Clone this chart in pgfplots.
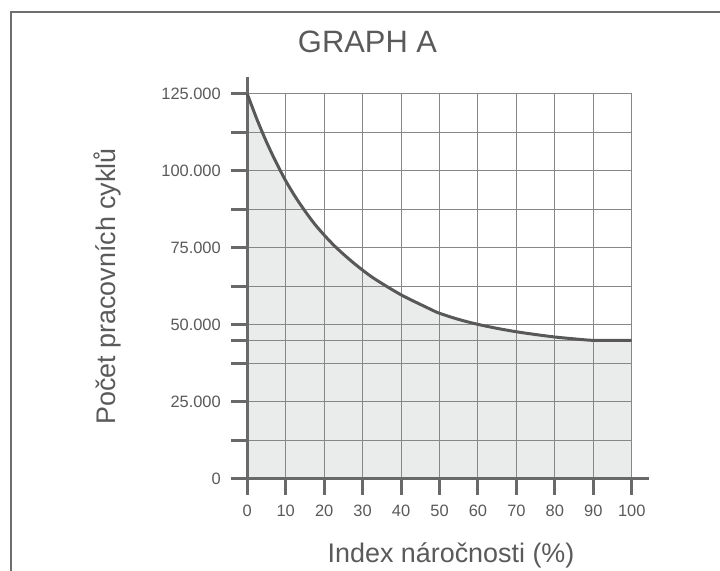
\documentclass[border=0pt]{standalone}
\usepackage{pgfplots}
\pgfplotsset{compat=1.18}
\usepackage{fontspec}
\setmainfont{Liberation Sans}
\definecolor{axisgray}{RGB}{105,105,105}
\definecolor{gridgray}{RGB}{135,135,135}
\definecolor{fillgray}{RGB}{234,235,235}
\definecolor{curvegray}{RGB}{88,88,88}
\definecolor{textgray}{RGB}{90,90,90}
\definecolor{framegray}{RGB}{110,110,110}
\begin{document}
\begin{tikzpicture}[x=1bp,y=1bp]
\draw[framegray, line width=2bp] (11,-5) -- (11,558.5) -- (730,558.5);
\node[text=textgray, anchor=base, font=\fontsize{31}{36}\selectfont] at (367.5,518) {GRAPH A};
\begin{axis}[
  set layers,
  at={(247.3bp,92bp)}, anchor=south west,
  width=384.4bp, height=385bp, scale only axis,
  xmin=0, xmax=100, ymin=0, ymax=125,
  clip=false,
  axis lines=left,
  axis line style={-, line width=3bp, axisgray, shorten >=-17bp},
  xtick={0,10,...,100},
  ytick={0,12.5,25,37.5,45,50,62.5,75,87.5,100,112.5,125},
  yticklabels={0,,25.000,,,50.000,,75.000,,100.000,,125.000},
  tick style={line width=3bp, axisgray},
  major tick length=16bp,
  tick align=outside,
  grid=major,
  major grid style={line width=1bp, gridgray},
  ticklabel style={font=\fontsize{16.5}{19}\selectfont, text=textgray},
  xticklabel style={yshift=-7bp},
  yticklabel style={xshift=-7bp},
  /pgf/number format/assume math mode=true,
  xlabel={Index náročnosti (\%)},
  ylabel={Počet pracovních cyklů},
  xlabel style={font=\fontsize{27}{30}\selectfont, text=textgray, at={(axis description cs:0.53,-0.218)}, anchor=base},
  ylabel style={font=\fontsize{27}{30}\selectfont, text=textgray, at={(axis description cs:-0.364,0.5)}, anchor=center},
]
\addplot[fill=fillgray, draw=none, smooth, on layer=axis background] coordinates {
(0,125) (2.5,116.8) (5,109.4) (7.5,102.8) (10,96.8) (12.5,91.6) (15,87.0) (17.5,82.8) (20,79.2) (22.5,75.9) (25,73.0) (27.5,70.3) (30,67.8) (32.5,65.5) (35,63.5) (37.5,61.6) (40,59.8) (42.5,58.2) (45,56.7) (47.5,55.2) (50,53.8) (55,51.8) (60,50.2) (65,48.9) (70,47.8) (75,46.9) (80,46.1) (85,45.5) (90,45.0) (95,45.0) (100,45.0)
} \closedcycle;
\addplot[smooth, line width=3bp, color=curvegray] coordinates {
(0,125) (2.5,116.8) (5,109.4) (7.5,102.8) (10,96.8) (12.5,91.6) (15,87.0) (17.5,82.8) (20,79.2) (22.5,75.9) (25,73.0) (27.5,70.3) (30,67.8) (32.5,65.5) (35,63.5) (37.5,61.6) (40,59.8) (42.5,58.2) (45,56.7) (47.5,55.2) (50,53.8) (55,51.8) (60,50.2) (65,48.9) (70,47.8) (75,46.9) (80,46.1) (85,45.5) (90,45.0) (95,45.0) (100,45.0)
};
\end{axis}
\pgfresetboundingbox
\useasboundingbox (0,0) rectangle (720,571);
\end{tikzpicture}
\end{document}
